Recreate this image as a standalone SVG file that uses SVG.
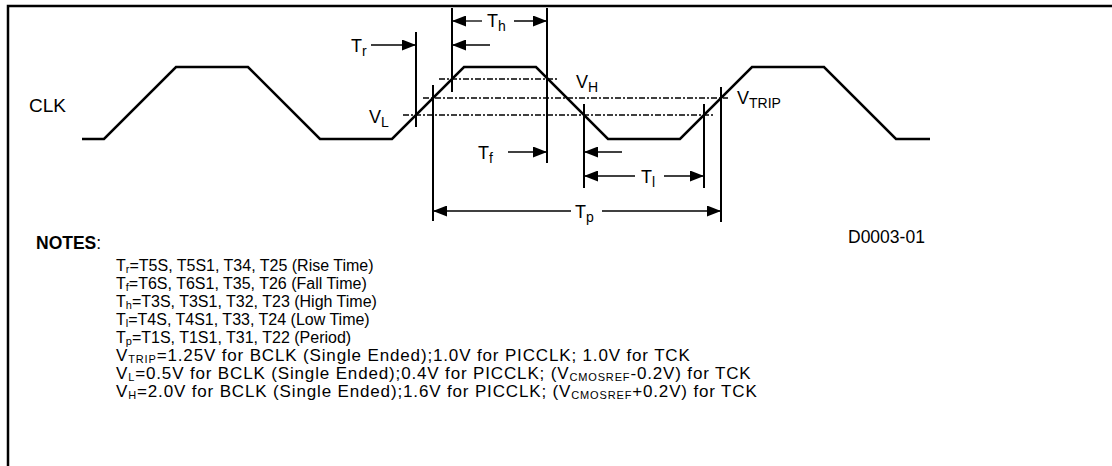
<svg xmlns="http://www.w3.org/2000/svg" width="1112" height="466" viewBox="0 0 1112 466">
<style>
.frame{fill:none;stroke:#000;stroke-width:2.5}
.wave{fill:none;stroke:#000;stroke-width:2.5;stroke-linejoin:miter}
.ext{stroke:#000;stroke-width:2}
.dim{stroke:#000;stroke-width:1.3;fill:none}
.lvl{stroke:#000;stroke-width:1.5;stroke-dasharray:6 2 2 2}
text{font-family:"Liberation Sans",Arial,sans-serif;fill:#000}
.lab{font-size:18px}
.lsub{font-size:14px}
.clk{font-size:19px}
.note{font-size:17.5px}
.tnote{font-size:16px}
.vnote{font-size:17px;letter-spacing:0.85px}
.nsub{font-size:11px}
.bold{font-weight:bold}
</style>
<defs>
<marker id="ah" viewBox="0 0 14 11" refX="14" refY="5.5" markerWidth="14" markerHeight="11" markerUnits="userSpaceOnUse" orient="auto"><path d="M0,0L14,5.5L0,11z" fill="#000"/></marker>
</defs>
<path class="frame" d="M8,466V6H1112"/>
<g id="clk">
<path class="wave" d="M82,139H104L176,67H248L320,139H392L464,67H536L608,139H680L752,67H824L896,139H930"/>
<text class="clk" x="29" y="112">CLK</text>
</g>
<g id="levels">
<line class="lvl" x1="439" y1="79" x2="558" y2="79"/>
<line class="lvl" x1="423" y1="98" x2="728" y2="98"/>
<line class="lvl" x1="403" y1="115" x2="713" y2="115"/>
<text class="lab" x="369" y="123">V<tspan class="lsub" dy="4">L</tspan></text>
<text class="lab" x="576" y="88">V<tspan class="lsub" dy="4">H</tspan></text>
<text class="lab" x="737" y="104">V<tspan class="lsub" dy="4">TRIP</tspan></text>
</g>
<g id="connectors">
<line class="ext" x1="416" y1="32" x2="416" y2="127"/>
<line class="ext" x1="452" y1="8" x2="452" y2="92"/>
<line class="ext" x1="547" y1="8" x2="547" y2="163"/>
<line class="ext" x1="433" y1="85" x2="433" y2="221"/>
<line class="ext" x1="721" y1="87" x2="721" y2="222"/>
<line class="ext" x1="584" y1="104" x2="584" y2="188"/>
<line class="ext" x1="704" y1="104" x2="704" y2="188"/>
<line class="dim" x1="371" y1="45" x2="416" y2="45" marker-end="url(#ah)"/>
<line class="dim" x1="482" y1="21" x2="452" y2="21" marker-end="url(#ah)"/>
<line class="dim" x1="514" y1="21" x2="547" y2="21" marker-end="url(#ah)"/>
<line class="dim" x1="490" y1="45" x2="452" y2="45" marker-end="url(#ah)"/>
<line class="dim" x1="508" y1="152" x2="547" y2="152" marker-end="url(#ah)"/>
<line class="dim" x1="622" y1="152" x2="584" y2="152" marker-end="url(#ah)"/>
<line class="dim" x1="635" y1="176" x2="584" y2="176" marker-end="url(#ah)"/>
<line class="dim" x1="664" y1="176" x2="704" y2="176" marker-end="url(#ah)"/>
<line class="dim" x1="571" y1="211" x2="433" y2="211" marker-end="url(#ah)"/>
<line class="dim" x1="602" y1="211" x2="721" y2="211" marker-end="url(#ah)"/>
</g>
<g id="labels">
<text class="lab" x="351" y="52">T<tspan class="lsub" dy="4">r</tspan></text>
<text class="lab" x="487" y="27">T<tspan class="lsub" dy="4">h</tspan></text>
<text class="lab" x="478" y="159">T<tspan class="lsub" dy="4">f</tspan></text>
<text class="lab" x="641" y="183">T<tspan class="lsub" dy="4">l</tspan></text>
<text class="lab" x="575" y="218">T<tspan class="lsub" dy="4">p</tspan></text>
<text class="note" x="848" y="243">D0003-01</text>
</g>
<g id="notes">
<text class="note" x="36" y="249"><tspan class="bold">NOTES</tspan>:</text>
<text class="tnote" x="116" y="271">T<tspan class="nsub" dy="2">r</tspan><tspan dy="-2">=T5S, T5S1, T34, T25 (Rise Time)</tspan></text>
<text class="tnote" x="116" y="289">T<tspan class="nsub" dy="2">f</tspan><tspan dy="-2">=T6S, T6S1, T35, T26 (Fall Time)</tspan></text>
<text class="tnote" x="116" y="307">T<tspan class="nsub" dy="2">h</tspan><tspan dy="-2">=T3S, T3S1, T32, T23 (High Time)</tspan></text>
<text class="tnote" x="116" y="325">T<tspan class="nsub" dy="2">l</tspan><tspan dy="-2">=T4S, T4S1, T33, T24 (Low Time)</tspan></text>
<text class="tnote" x="116" y="343">T<tspan class="nsub" dy="2">p</tspan><tspan dy="-2">=T1S, T1S1, T31, T22 (Period)</tspan></text>
<text class="vnote" x="116" y="361">V<tspan class="nsub" dy="2">TRIP</tspan><tspan dy="-2">=1.25V for BCLK (Single Ended);1.0V for PICCLK; 1.0V for TCK</tspan></text>
<text class="vnote" x="116" y="379">V<tspan class="nsub" dy="2">L</tspan><tspan dy="-2">=0.5V for BCLK (Single Ended);0.4V for PICCLK; (V</tspan><tspan class="nsub" dy="2">CMOSREF</tspan><tspan dy="-2">-0.2V) for TCK</tspan></text>
<text class="vnote" x="116" y="397">V<tspan class="nsub" dy="2">H</tspan><tspan dy="-2">=2.0V for BCLK (Single Ended);1.6V for PICCLK; (V</tspan><tspan class="nsub" dy="2">CMOSREF</tspan><tspan dy="-2">+0.2V) for TCK</tspan></text>
</g>
</svg>
